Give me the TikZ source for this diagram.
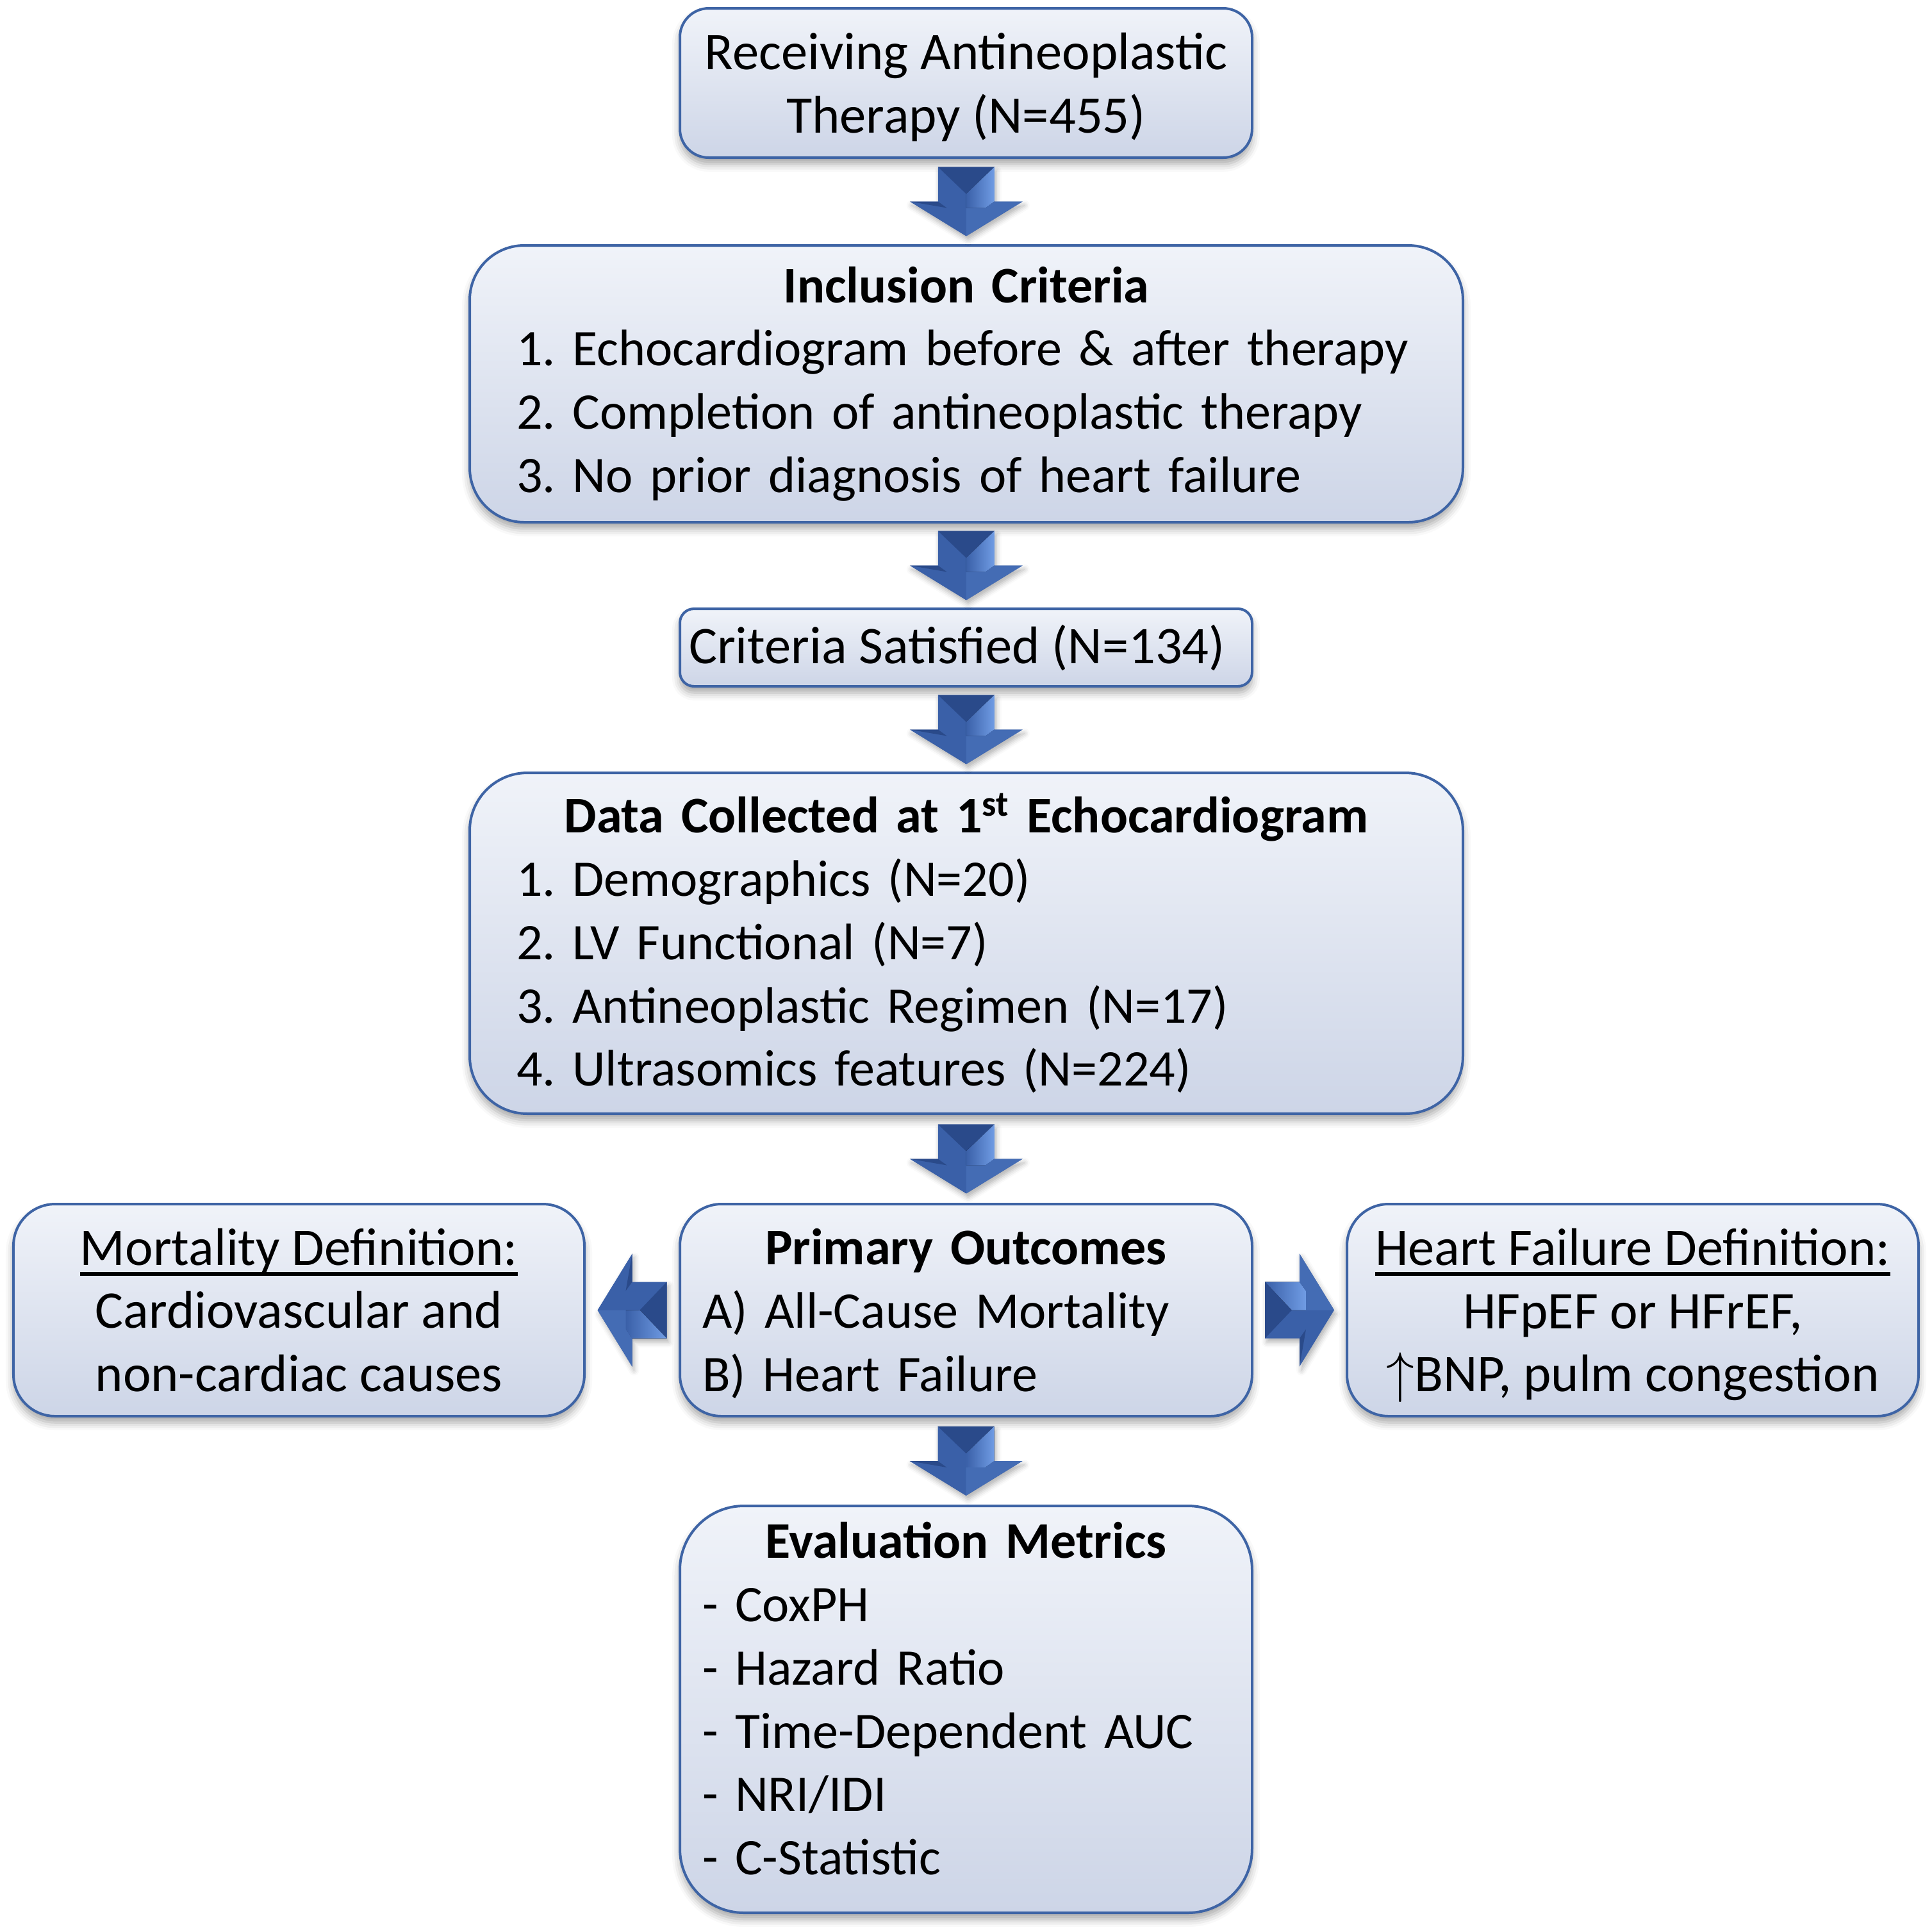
\documentclass[tikz,border=0pt]{standalone}
\usepackage{fontspec}
\setmainfont{Carlito}
\usetikzlibrary{calc,shadows.blur}

\definecolor{boxtop}{RGB}{240,243,249}
\definecolor{boxbot}{RGB}{205,213,231}
\definecolor{boxline}{RGB}{62,100,165}
\definecolor{arrmain}{RGB}{58,96,168}
\definecolor{arrdark}{RGB}{42,74,138}
\definecolor{arrmid}{RGB}{68,108,180}
\definecolor{arrlight}{RGB}{112,156,228}

\newcommand{\ulword}[1]{\setbox0\hbox{#1}\rlap{\rule[-0.2em]{\wd0}{1.6pt}}\box0}
\newcommand{\nodepth}[1]{\raisebox{0pt}[\height][0pt]{#1}}

\tikzset{
  flowbox/.style={draw=boxline, line width=0.04cm, top color=boxtop, bottom color=boxbot,
    blur shadow={shadow xshift=0cm, shadow yshift=-0.1cm, shadow blur radius=0.12cm, shadow opacity=35},
    inner sep=0pt},
  listbox/.style={flowbox, align=left, font=\fontsize{22.8}{28.1}\selectfont\frenchspacing},
  midbox/.style={flowbox, align=center, font=\fontsize{23.5}{28.1}\selectfont},
}

\newcommand{\blockarrow}[3]{%
  \begin{scope}[shift={($(#1)!0.5!(#2)$)}, rotate=#3]
    \fill[arrmain, blur shadow={shadow xshift=0.03cm, shadow yshift=-0.06cm, shadow blur radius=0.08cm, shadow opacity=30}]
      (-0.44,0.54) -- (0.44,0.54) -- (0.44,0) -- (0.88,0) -- (0,-0.54) -- (-0.88,0) -- (-0.44,0) -- cycle;
    \fill[arrdark] (-0.44,0.54) -- (0.44,0.54) -- (0,0.12) -- cycle;
    \fill[left color=arrmain, right color=arrlight] (0,0.12) -- (0.44,0.54) -- (0.44,0) -- (0.3,-0.1) -- (0,-0.1) -- cycle;
    \fill[arrmid] (0,-0.1) -- (0.3,-0.1) -- (0.44,0) -- (0.88,0) -- (0,-0.54) -- cycle;
    \fill[arrdark] (-0.88,0) -- (-0.44,0) -- (-0.3,-0.1) -- cycle;
  \end{scope}}

\begin{document}
\begin{tikzpicture}
	\useasboundingbox (0,0) rectangle (30.15,-30.15);

	\node at (15.075,-1.295) [midbox, minimum width=8.93cm, minimum height=2.33cm, rounded corners=0.45cm] (recv)
		{Receiving Antineoplastic\\\nodepth{Therapy (N=455)}};
	\node at (15.08,-5.99) [listbox, minimum width=15.5cm, minimum height=4.32cm, text width=14.04cm, rounded corners=0.85cm] (incl)
		{\makebox[\hsize]{\bfseries Inclusion Criteria}\\
		 1. Echocardiogram before \& after therapy\\
		 2. Completion of antineoplastic therapy\\
		 3. No prior diagnosis of heart failure};
	\node at (15.075,-10.105) [midbox, minimum width=8.93cm, minimum height=1.21cm, rounded corners=0.22cm] (crit)
		{Criteria Satisfied (N=134)\hspace*{0.28cm}};
	\node at (15.08,-14.72) [listbox, minimum width=15.5cm, minimum height=5.32cm, text width=14.04cm, rounded corners=0.9cm] (data)
		{\makebox[\hsize]{\bfseries Data Collected at 1\textsuperscript{st} Echocardiogram}\\
		 1. Demographics (N=20)\\
		 2. LV Functional (N=7)\\
		 3. Antineoplastic Regimen (N=17)\\
		 4. Ultrasomics features (N=224)};
	\node at (4.665,-20.445) [midbox, minimum width=8.91cm, minimum height=3.31cm, rounded corners=0.65cm] (mort)
		{\ulword{Mortality Definition:}\\Cardiovascular and\\non-cardiac causes};
	\node at (15.075,-20.445) [listbox, minimum width=8.93cm, minimum height=3.31cm, text width=8.23cm, rounded corners=0.65cm] (prim)
		{\makebox[\hsize]{\bfseries Primary Outcomes}\\
		 A) All-Cause Mortality\\
		 \nodepth{B) Heart Failure}};
	\node at (25.48,-20.445) [midbox, minimum width=8.92cm, minimum height=3.31cm, rounded corners=0.65cm] (hfdef)
		{\ulword{Heart Failure Definition:}\\HFpEF or HFrEF,\\\nodepth{$\big\uparrow$BNP, pulm congestion}};
	\node at (15.075,-26.675) [listbox, minimum width=8.93cm, minimum height=6.35cm, text width=8.23cm, rounded corners=1cm] (evalm)
		{\makebox[\hsize]{\bfseries Evaluation Metrics}\\
		 - CoxPH\\
		 - Hazard Ratio\\
		 - Time-Dependent AUC\\
		 - NRI/IDI\\
		 - C-Statistic\\[-0.65cm]\mbox{}};

	\blockarrow{recv.south}{incl.north}{0}
	\blockarrow{incl.south}{crit.north}{0}
	\blockarrow{crit.south}{data.north}{0}
	\blockarrow{data.south}{prim.north}{0}
	\blockarrow{prim.west}{mort.east}{-90}
	\blockarrow{prim.east}{hfdef.west}{90}
	\blockarrow{prim.south}{evalm.north}{0}
\end{tikzpicture}
\end{document}
